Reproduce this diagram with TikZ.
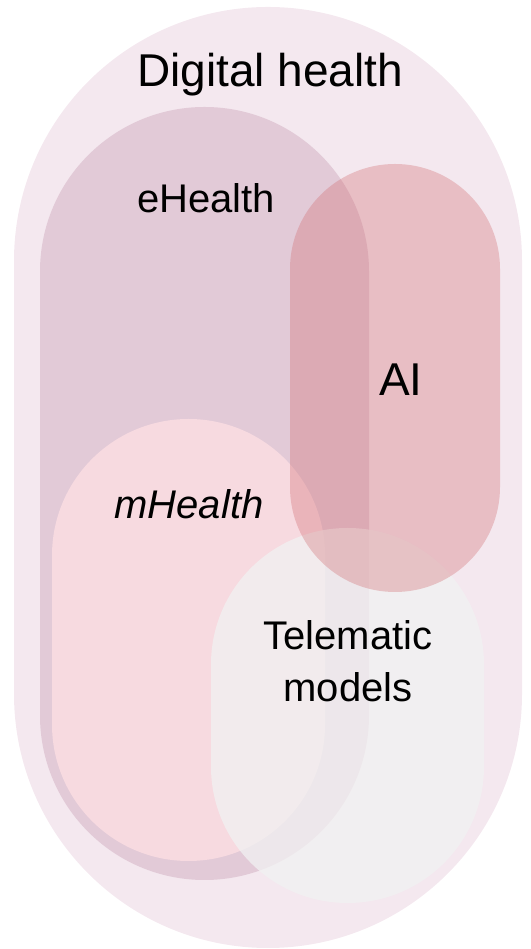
\documentclass[tikz,border=0pt]{standalone}
\usepackage{fontspec}
\setmainfont{Liberation Sans}
\usepackage{tikz}
\definecolor{digitalfill}{HTML}{F4E8EF}
\definecolor{ehealthfill}{HTML}{E2CAD7}
\definecolor{mhealthfill}{HTML}{F7DAE0}
\definecolor{telefill}{HTML}{F1F2F2}
\definecolor{aifill}{HTML}{D0696E}
\begin{document}
\begin{tikzpicture}[x=1pt,y=1pt,
                   area/.style={draw=none},
                   lbl/.style={anchor=base,inner sep=0pt,font=\fontsize{40}{52}\selectfont},
                   biglbl/.style={lbl,font=\fontsize{46}{55}\selectfont}]
\useasboundingbox (0,0) rectangle (530,949);
% sets, back to front
\fill[area,digitalfill,rounded corners=254] (14,1) rectangle (522,942);
\fill[area,ehealthfill,rounded corners=164.5] (40,69) rectangle (369,842);
\fill[area,mhealthfill,rounded corners=136.5] (52,88) rectangle (325,530);
\fill[area,telefill,fill opacity=0.75,rounded corners=136.5] (211,46) rectangle (484,421);
\fill[area,aifill,fill opacity=0.33,rounded corners=105] (290,357) rectangle (500,785);
% labels
\node[biglbl] (digital) at (270,862) {Digital health};
\node[lbl] (ehealth) at (206,736) {eHealth};
\node[biglbl] (ai) at (401,553) {AI};
\node[lbl] (mhealth) at (189,430) {\itshape mHealth};
\node[lbl,anchor=center,align=center] (tele) at (348,288) {Telematic\\models};
\end{tikzpicture}
\end{document}
